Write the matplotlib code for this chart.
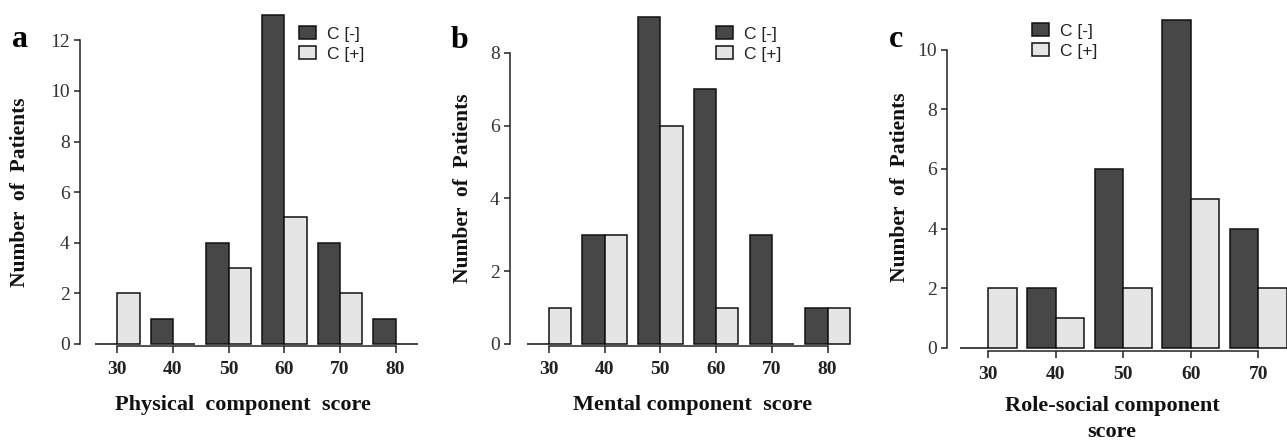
import numpy as np
import matplotlib
matplotlib.use("Agg")
import matplotlib.pyplot as plt
from matplotlib.patches import Patch

W, H = 1287, 442

# data: number of patients per score bin
bins_a = [30, 40, 50, 60, 70, 80]
neg_a = [0, 1, 4, 13, 4, 1]
pos_a = [2, 0, 3, 5, 2, 0]

bins_b = [30, 40, 50, 60, 70, 80]
neg_b = [0, 3, 9, 7, 3, 1]
pos_b = [1, 3, 6, 1, 0, 1]

bins_c = [30, 40, 50, 60, 70]
neg_c = [0, 2, 6, 11, 4]
pos_c = [2, 1, 2, 5, 2]

yticks_a = [0, 2, 4, 6, 8, 10, 12]
yticks_b = [0, 2, 4, 6, 8]
yticks_c = [0, 2, 4, 6, 8, 10]

xlabels = ["Physical  component  score", "Mental component  score",
           "Role-social component\nscore"]
letters = ["a", "b", "c"]
legend_labels = ["C [-]", "C [+]"]

dark = "#474747"
light = "#e5e5e5"
serif = "Liberation Serif"
sans = "Liberation Sans"


def px(x0, y0, x1, y1):
    # pixel box (from top-left) -> figure fraction rect
    return [x0 / W, 1 - y1 / H, (x1 - x0) / W, (y1 - y0) / H]


fig = plt.figure(figsize=(W / 100, H / 100), dpi=100)

# per panel: axes box in px, xlim, ylim, bar width
panels = [
    dict(box=px(80, 10, 429, 346), xlim=(23.3, 86), ylim=(-0.08, 13.2),
         bins=bins_a, neg=neg_a, pos=pos_a, yt=yticks_a, w=4.0),
    dict(box=px(510, 10, 861, 346), xlim=(23.0, 86), ylim=(-0.055, 9.18),
         bins=bins_b, neg=neg_b, pos=pos_b, yt=yticks_b, w=4.0),
    dict(box=px(947.3, 10, 1290, 350.5), xlim=(23.93, 74.7), ylim=(-0.09, 11.33),
         bins=bins_c, neg=neg_c, pos=pos_c, yt=yticks_c, w=4.2),
]

for p in panels:
    ax = fig.add_axes(p["box"])
    x = np.array(p["bins"], dtype=float)
    ax.bar(x - p["w"] / 2, p["neg"], width=p["w"], color=dark,
           edgecolor="#111111", linewidth=1.1, clip_on=False, zorder=3)
    ax.bar(x + p["w"] / 2, p["pos"], width=p["w"], color=light,
           edgecolor="#111111", linewidth=1.1, clip_on=False, zorder=3)
    ax.set_xlim(*p["xlim"])
    ax.set_ylim(*p["ylim"])
    ax.set_xticks(p["bins"])
    ax.set_yticks(p["yt"])
    ax.spines["top"].set_visible(False)
    ax.spines["right"].set_visible(False)
    ax.spines["left"].set_bounds(p["yt"][0], p["yt"][-1])
    ax.spines["bottom"].set_bounds(p["bins"][0], p["bins"][-1])
    for s in ("left", "bottom"):
        ax.spines[s].set_linewidth(1.1)
        ax.spines[s].set_color("#222222")
    ax.tick_params(axis="y", length=4.5, width=1.1, pad=3, color="#222222")
    ax.tick_params(axis="x", length=5, width=1.1, pad=6, color="#222222")
    for t in ax.get_yticklabels():
        t.set_fontfamily(serif)
        t.set_fontsize(14)
        t.set_color("#333333")
    for t in ax.get_xticklabels():
        t.set_fontfamily(serif)
        t.set_fontsize(14)
        t.set_fontweight("bold")
        t.set_color("#222222")
    ax.patch.set_alpha(0)

handles = [Patch(facecolor=dark, edgecolor="#111111", linewidth=1.1),
           Patch(facecolor=light, edgecolor="#111111", linewidth=1.1)]
for lx, ly in [(299, 26), (716, 26), (1032, 23)]:
    fig.legend(handles, legend_labels, loc="upper left",
               bbox_to_anchor=(lx / W, 1 - ly / H), frameon=False,
               borderpad=0, borderaxespad=0, handlelength=1.0,
               handleheight=0.8, handletextpad=0.6, labelspacing=0.25,
               prop={"family": sans, "size": 12.5}, labelcolor="#222222")

# panel letters
for (lx, ly), s in zip([(12, 47), (451, 48), (889, 47)], letters):
    fig.text(lx / W, 1 - ly / H, s, fontfamily=serif, fontweight="bold",
             fontsize=23, va="baseline", ha="left")

# y labels
for yx, yy in [(20, 192), (462.5, 188), (900, 187)]:
    fig.text(yx / W, 1 - yy / H, "Number  of  Patients", rotation=90,
             fontfamily=serif, fontweight="bold", fontsize=15.5,
             ha="center", va="center", color="#111111")

# x labels
for (xx, xy), s in zip([(243, 405), (693, 405), (1112, 419)], xlabels):
    fig.text(xx / W, 1 - xy / H, s, fontfamily=serif, fontweight="bold",
             fontsize=16, ha="center", va="center", color="#111111",
             linespacing=1.45)

fig.savefig("out.png", dpi=100)
